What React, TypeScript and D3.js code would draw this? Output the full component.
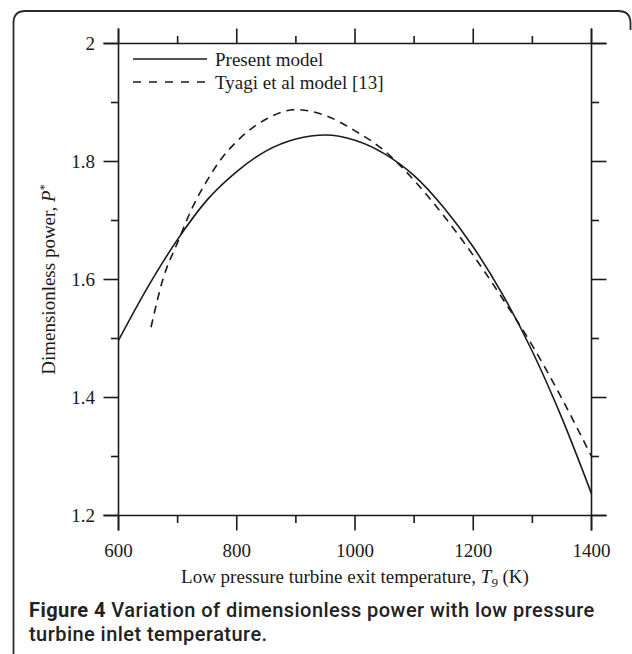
import React from "react";
import * as d3 from "d3";

const presentX = [600, 650, 700, 750, 800, 850, 900, 950, 1000, 1050, 1100, 1150, 1200, 1250, 1300, 1350, 1400];
const presentY = [1.497, 1.588, 1.668, 1.735, 1.783, 1.818, 1.838, 1.845, 1.836, 1.813, 1.776, 1.722, 1.655, 1.574, 1.478, 1.365, 1.237];

const tyagiX = [655, 675, 700, 725, 750, 775, 800, 850, 900, 950, 1000, 1050, 1100, 1150, 1200, 1250, 1300, 1350, 1400];
const tyagiY = [1.519, 1.600, 1.663, 1.722, 1.768, 1.806, 1.834, 1.872, 1.888, 1.878, 1.852, 1.818, 1.768, 1.708, 1.641, 1.567, 1.488, 1.398, 1.300];

const xMajorTicks = [600, 800, 1000, 1200, 1400];
const xMinorTicks = [700, 900, 1100, 1300];
const yMajorTicks = [1.2, 1.4, 1.6, 1.8, 2];
const yMajorLabels = ["1.2", "1.4", "1.6", "1.8", "2"];
const yMinorTicks = [1.3, 1.5, 1.7, 1.9];

const legendLabels = ["Present model", "Tyagi et al model [13]"];

const W = 632;
const H = 654;
const L = 118.5, R = 591.5, T = 43.5, B = 515.5;
const EXT = 15;
const MAJ = 15;
const MIN = 7.5;

const serif = "'Liberation Serif', 'Times New Roman', serif";
const sans = "Roboto, 'Liberation Sans', sans-serif";
const INK = "#1a1a1a";

export default function App() {
  const x = d3.scaleLinear().domain([600, 1400]).range([L, R]);
  const y = d3.scaleLinear().domain([1.2, 2]).range([B, T]);

  const line = d3
    .line<[number, number]>()
    .x((d) => x(d[0]))
    .y((d) => y(d[1]))
    .curve(d3.curveMonotoneX);

  const presentPath = line(presentX.map((v, i) => [v, presentY[i]]) as [number, number][]) || "";
  const tyagiPath = line(tyagiX.map((v, i) => [v, tyagiY[i]]) as [number, number][]) || "";

  const axisW = 1.6;
  const fs = 19;

  return (
    <svg
      width={W}
      height={H}
      viewBox={`0 0 ${W} ${H}`}
      style={{ position: "absolute", left: 0, top: 0, background: "#fff" }}
    >
      <rect x={0} y={0} width={W} height={H} fill="#fff" />
      {/* frame */}
      <path
        d={`M 13.5 ${H + 10} V 23 Q 13.5 11 25.5 11 H 618 Q 630.5 11 630.5 23 V 30`}
        fill="none"
        stroke="#2a2a2a"
        strokeWidth={1.8}
      />

      {/* axes box with extended lines */}
      <g stroke={INK} strokeWidth={axisW} fill="none">
        <line x1={L - EXT} x2={R + EXT} y1={T} y2={T} />
        <line x1={L - EXT} x2={R + EXT} y1={B} y2={B} />
        <line x1={L} x2={L} y1={T - EXT} y2={B + EXT} />
        <line x1={R} x2={R} y1={T - EXT} y2={B + EXT} />
        {xMajorTicks.map((t) => (
          <g key={"xm" + t}>
            <line x1={x(t)} x2={x(t)} y1={T} y2={T - MAJ} />
            <line x1={x(t)} x2={x(t)} y1={B} y2={B + MAJ} />
          </g>
        ))}
        {xMinorTicks.map((t) => (
          <g key={"xn" + t}>
            <line x1={x(t)} x2={x(t)} y1={T} y2={T - MIN} />
            <line x1={x(t)} x2={x(t)} y1={B} y2={B + MIN} />
          </g>
        ))}
        {yMajorTicks.map((t) => (
          <g key={"ym" + t}>
            <line x1={L} x2={L - MAJ} y1={y(t)} y2={y(t)} />
            <line x1={R} x2={R + MAJ} y1={y(t)} y2={y(t)} />
          </g>
        ))}
        {yMinorTicks.map((t) => (
          <g key={"yn" + t}>
            <line x1={L} x2={L - MIN} y1={y(t)} y2={y(t)} />
            <line x1={R} x2={R + MIN} y1={y(t)} y2={y(t)} />
          </g>
        ))}
      </g>

      {/* tick labels */}
      <g fontFamily={serif} fontSize={fs} fill={INK}>
        {xMajorTicks.map((t) => (
          <text key={"xl" + t} x={x(t)} y={557} textAnchor="middle">
            {t}
          </text>
        ))}
        {yMajorTicks.map((t, i) => (
          <text key={"yl" + t} x={95} y={y(t) + 6.5} textAnchor="end">
            {yMajorLabels[i]}
          </text>
        ))}
      </g>

      {/* curves */}
      <path d={presentPath} fill="none" stroke={INK} strokeWidth={1.6} />
      <path d={tyagiPath} fill="none" stroke={INK} strokeWidth={1.6} strokeDasharray="8,6" />

      {/* legend */}
      <g fontFamily={serif} fontSize={fs} fill={INK}>
        <line x1={133} x2={207} y1={59} y2={59} stroke={INK} strokeWidth={1.6} />
        <text x={215} y={65.5}>{legendLabels[0]}</text>
        <line x1={133} x2={207} y1={82} y2={82} stroke={INK} strokeWidth={1.6} strokeDasharray="8,8" />
        <text x={215} y={88.5}>{legendLabels[1]}</text>
      </g>

      {/* axis titles */}
      <text x={(L + R) / 2} y={583} textAnchor="middle" fontFamily={serif} fontSize={fs} fill={INK}>
        Low pressure turbine exit temperature,{" "}
        <tspan fontStyle="italic">T</tspan>
        <tspan fontStyle="italic" fontSize={13} dy={4}>9</tspan>
        <tspan dy={-4}> (K)</tspan>
      </text>
      <text
        transform={`translate(55, ${(T + B) / 2}) rotate(-90)`}
        textAnchor="middle"
        fontFamily={serif}
        fontSize={fs}
        fill={INK}
      >
        Dimensionless power, <tspan fontStyle="italic">P</tspan>
        <tspan fontSize={12} dy={-7}>*</tspan>
      </text>

      {/* caption */}
      <g fontFamily={sans} fontSize={20} fill="#222" letterSpacing={0.45}>
        <text x={29} y={617}>
          <tspan fontWeight={700}>Figure 4</tspan>
          <tspan fontWeight={500}> Variation of dimensionless power with low pressure</tspan>
        </text>
        <text x={29} y={641} fontWeight={500}>
          turbine inlet temperature.
        </text>
      </g>
    </svg>
  );
}
